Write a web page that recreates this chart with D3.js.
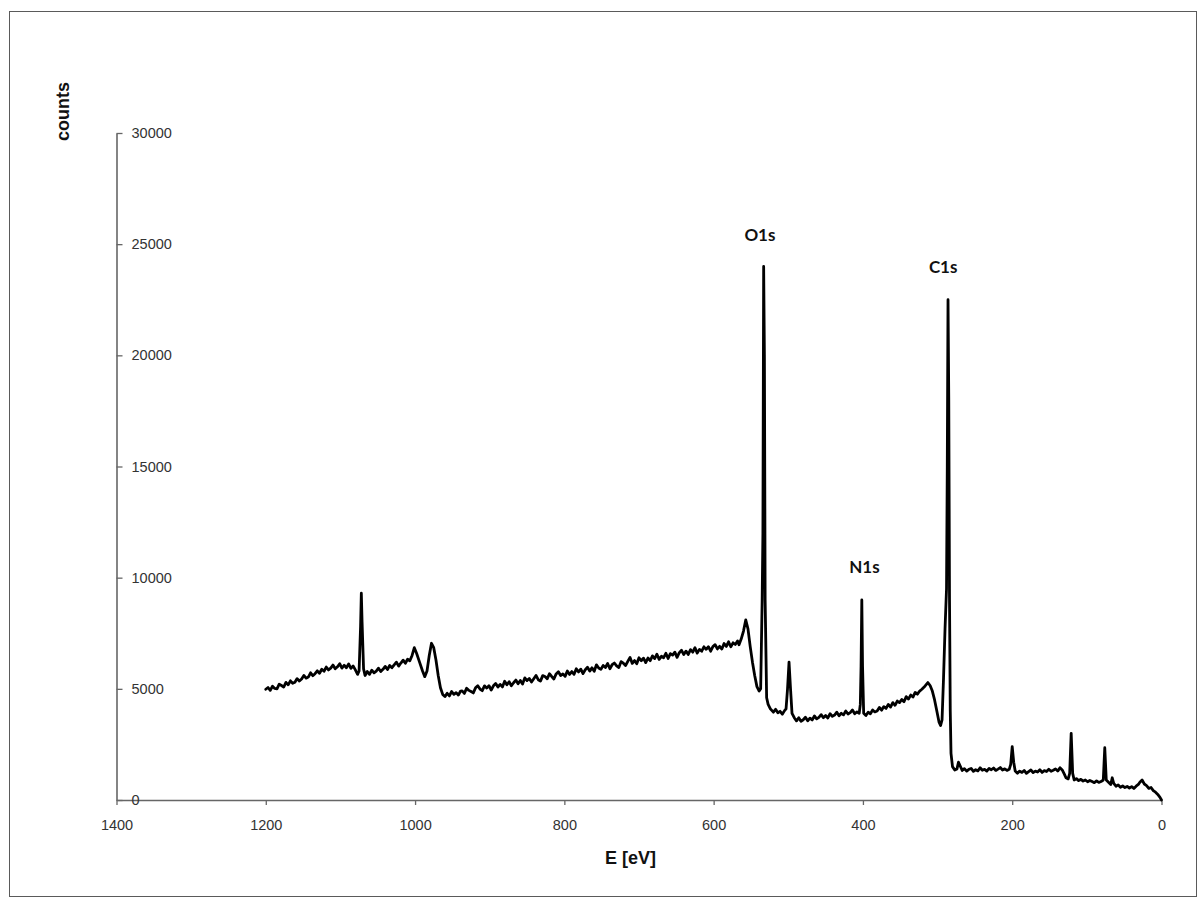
<!DOCTYPE html>
<html>
<head>
<meta charset="utf-8">
<script src="https://cdn.jsdelivr.net/npm/d3@7"></script>
<style>
  html, body { margin: 0; padding: 0; background: #fff; }
  svg { display: block; }
</style>
</head>
<body>
<svg id="chart" width="1203" height="903"></svg>
<script>
// XPS survey spectrum: binding energy (eV) vs. counts
const energy = [
  // high-energy background and the 1072 eV line
  1200, 1197, 1194, 1191, 1188, 1185, 1182, 1179, 1176, 1173, 1170, 1167, 1164, 1161, 1158, 1155, 1152, 1149, 1146, 1143, 1140,
  1137, 1134, 1131, 1128, 1125, 1122, 1119, 1116, 1113, 1110, 1107, 1104, 1101, 1098, 1095, 1092, 1089, 1086, 1083, 1080,
  1077, 1075, 1073, 1072, 1071, 1069, 1067, 1064, 1061, 1058, 1055, 1052, 1049, 1046,
  1043, 1040, 1037, 1034, 1031, 1028, 1025, 1022, 1019, 1016, 1013, 1010, 1007, 1004,
  // double feature near 1000 eV
  1001, 998, 994, 990, 987, 984, 981, 978, 975, 972, 969, 966, 963, 960, 957, 954, 951, 948, 945, 942, 939,
  // sloping background
  937, 934, 931, 928, 925, 922, 919, 916, 913, 910, 907, 904,
  901, 898, 895, 892, 889, 886, 883, 880, 877, 874, 871, 868,
  865, 862, 859, 856, 853, 850, 847, 844, 841, 838, 835, 832,
  829, 826, 823, 820, 817, 814, 811, 808, 805, 802, 799, 796,
  793, 790, 787, 784, 781, 778, 775, 772, 769, 766, 763, 760,
  757, 754, 751, 748, 745, 742, 739, 736, 733, 730, 727, 724,
  721, 718, 715, 712, 709, 706, 703, 700, 697, 694, 691, 688,
  685, 682, 679, 676, 673, 670, 667, 664, 661, 658, 655, 652,
  649, 646, 643, 640, 637, 634, 631, 628, 625, 622, 619, 616,
  613, 610, 607, 604, 601, 598, 595, 592, 589, 586, 583, 580,
  577, 574, 571,
  // O1s
  568, 566, 563, 560, 557, 554, 551, 548, 545, 542, 539, 537, 535, 534, 533, 532, 531, 529, 527, 524,
  // up to N1s
  520, 517, 514, 511, 508, 505, 503, 501, 499, 497, 495, 492, 489, 486, 483,
  480, 477, 474, 471, 468, 465, 462, 459, 456, 453, 450, 447, 444, 441, 438,
  435, 432, 429, 426, 423, 420, 417, 414, 411, 408, 405, 403.5, 402.5, 401.5, 400.5,
  // up to C1s
  399, 396, 393, 390, 387, 384, 381, 378, 375, 372, 369, 366, 363, 360, 357,
  354, 351, 348, 345, 342, 339, 336, 333, 330, 327, 324, 321, 318, 315, 313,
  310, 307, 304, 301, 298, 296, 294, 292, 290, 288, 287, 286, 285, 284, 283,
  // low-energy region
  282, 280, 277, 274, 272, 270, 267, 264, 261, 258,
  255, 252, 249, 246, 243, 240, 237, 234, 231, 228,
  225, 222, 219, 216, 213, 210, 207, 204, 202, 200,
  198, 196, 193, 190, 187, 184, 181, 178, 175, 172,
  169, 166, 163, 160, 157, 154, 151, 148, 145, 142,
  139, 136, 133, 130, 128, 125, 123, 121, 119, 117,
  114, 111, 108, 105, 102, 99, 96, 93, 90, 87,
  84, 81, 78, 76, 74, 71, 68, 66, 64, 61,
  58, 55, 52, 49, 46, 43, 40, 37, 34, 31,
  29, 26, 23, 20, 17, 14, 11, 8, 5, 2,
  0
];

const counts = [
  4980, 5060, 4930, 5120, 5020, 5000, 5210, 5150, 5080, 5290, 5180, 5360, 5250, 5300, 5460, 5350, 5440, 5600, 5480, 5530, 5720,
  5590, 5680, 5810, 5700, 5880, 5790, 5980, 5850, 5930, 6070, 5900, 5990, 6130, 5930, 6060, 5950, 6120, 5920, 6030, 5850,
  5650, 5800, 7800, 9300, 8000, 5900, 5600, 5780, 5650, 5840, 5720, 5800, 5930, 5780,
  5880, 6010, 5870, 6050, 5950, 6080, 6200, 6020, 6160, 6290, 6150, 6330, 6260, 6500,
  6850, 6600, 6200, 5800, 5550, 5800, 6500, 7050, 6850, 6300, 5600, 5050, 4750, 4650, 4800, 4680, 4880, 4750, 4830, 4720, 4900,
  4908, 4795, 5023, 4931, 4878, 4816, 5044, 5142, 4989, 4917, 5135, 5032,
  5140, 4948, 5136, 5243, 5081, 5199, 5086, 5344, 5182, 5319, 5137, 5275,
  5393, 5230, 5378, 5216, 5493, 5371, 5469, 5306, 5454, 5602, 5410, 5347,
  5595, 5553, 5450, 5678, 5556, 5443, 5671, 5769, 5597, 5674, 5562, 5800,
  5647, 5775, 5653, 5900, 5758, 5886, 5683, 5861, 5969, 5797, 5944, 5792,
  6080, 5937, 5875, 6053, 5960, 6138, 5906, 6084, 6161, 6029, 5957, 6224,
  6152, 6050, 6237, 6415, 6143, 6270, 6128, 6396, 6264, 6381, 6179, 6387,
  6264, 6482, 6360, 6557, 6325, 6463, 6400, 6598, 6366, 6584, 6521, 6649,
  6417, 6624, 6732, 6540, 6697, 6545, 6763, 6650, 6848, 6606, 6774, 6691,
  6889, 6777, 6894, 6692, 6900, 6987, 6795, 6913, 6790, 7038, 6906, 7114,
  6891, 7069, 6997,
  7150, 6980, 7250, 7600, 8100, 7700, 6900, 6200, 5600, 5100, 4900, 5000, 9000, 12000, 24000, 20000, 9000, 4600, 4300, 4100,
  3950, 4080, 3920, 3990, 3860, 4020, 4100, 5000, 6200, 5000, 3900, 3700, 3560, 3700, 3540,
  3610, 3720, 3560, 3680, 3600, 3780, 3650, 3720, 3840, 3700, 3800, 3690, 3880, 3760, 3820,
  3950, 3790, 3900, 3830, 4000, 3870, 3930, 4050, 3880, 3960, 3900, 4300, 6000, 9000, 6000,
  3900, 3800, 3950, 3880, 4050, 3960, 4000, 4160, 4040, 4200, 4120, 4300, 4180, 4380, 4260,
  4450, 4380, 4520, 4420, 4650, 4540, 4720, 4630, 4840, 4760, 4900, 4980, 5080, 5200, 5280,
  5150, 4900, 4500, 4000, 3500, 3350, 3600, 5500, 7700, 9500, 15000, 22500, 18000, 9000, 4000,
  2100, 1500, 1350, 1400, 1700, 1550, 1330, 1410, 1300, 1380,
  1420, 1290, 1360, 1310, 1450, 1340, 1380, 1300, 1420, 1360,
  1440, 1330, 1390, 1460, 1350, 1400, 1330, 1380, 1600, 2400,
  1700, 1300, 1200, 1300, 1240, 1330, 1200, 1280, 1350, 1230,
  1300, 1260, 1360, 1240, 1320, 1280, 1380, 1290, 1340, 1400,
  1300, 1450, 1350, 1150, 1000, 950, 1200, 3000, 1200, 900,
  960, 870, 930, 850, 900, 820, 880, 830, 780, 860,
  790, 830, 900, 2350, 900, 800, 700, 1000, 750, 620,
  680, 570, 630, 560, 610, 540, 600, 520, 620, 700,
  800, 900, 720, 650, 520, 560, 420, 350, 250, 120,
  0
];

// Peak annotations
const peakNames = ["O1s", "N1s", "C1s"];
const peakLabelEnergy = [538, 398, 292.5];
const peakLabelCounts = [25450, 10500, 24000];

// Axis ticks
const xTicks = [1400, 1200, 1000, 800, 600, 400, 200, 0];
const yTicks = [0, 5000, 10000, 15000, 20000, 25000, 30000];

const svg = d3.select("#chart");

// Outer frame
svg.append("rect")
  .attr("x", 9.5).attr("y", 11.5)
  .attr("width", 1187).attr("height", 885)
  .attr("fill", "#fff")
  .attr("stroke", "#5a5a5a")
  .attr("stroke-width", 1);

const x = d3.scaleLinear().domain([1400, 0]).range([116.5, 1161.5]);
const y = d3.scaleLinear().domain([0, 30000]).range([800, 133]);

const axisColor = "#666";
const textColor = "#333";
const tickFont = "'Liberation Sans', Arial, sans-serif";

// X axis (ticks point down, below the baseline)
const gx = svg.append("g")
  .attr("transform", `translate(0,${y(0)})`)
  .call(d3.axisBottom(x).tickValues(xTicks).tickFormat(d3.format("d"))
    .tickSizeInner(5).tickSizeOuter(0).tickPadding(15));

// Y axis (ticks point into the plot, labels to the right of the axis)
const gy = svg.append("g")
  .attr("transform", `translate(${x(1400)},0)`)
  .call(d3.axisRight(y).tickValues(yTicks).tickFormat(d3.format("d"))
    .tickSizeInner(6).tickSizeOuter(0).tickPadding(9));

[gx, gy].forEach(g => {
  g.select(".domain").attr("stroke", axisColor).attr("stroke-width", 1.6);
  g.selectAll(".tick line").attr("stroke", axisColor).attr("stroke-width", 1.3);
  g.selectAll(".tick text")
    .attr("fill", textColor)
    .style("font-family", tickFont)
    .style("font-size", "14.5px");
});

// Spectrum line
const pts = energy.map((e, i) => [e, counts[i]]);
const line = d3.line().x(d => x(d[0])).y(d => y(d[1]));
svg.append("path")
  .datum(pts)
  .attr("d", line)
  .attr("fill", "none")
  .attr("stroke", "#000")
  .attr("stroke-width", 2.8)
  .attr("stroke-linejoin", "round")
  .attr("stroke-linecap", "round");

// Peak labels
svg.selectAll("text.peak")
  .data(peakNames)
  .enter().append("text")
  .attr("class", "peak")
  .attr("x", (d, i) => x(peakLabelEnergy[i]))
  .attr("y", (d, i) => y(peakLabelCounts[i]))
  .attr("text-anchor", "middle")
  .attr("dominant-baseline", "central")
  .attr("fill", "#111")
  .style("font-family", "Lato, 'Noto Sans', sans-serif")
  .style("font-weight", "bold")
  .style("font-size", "17px")
  .text(d => d);

// Axis titles
svg.append("text")
  .attr("x", 630.5).attr("y", 858)
  .attr("text-anchor", "middle")
  .attr("dominant-baseline", "central")
  .attr("fill", "#111")
  .style("font-family", tickFont)
  .style("font-weight", "bold")
  .style("font-size", "18px")
  .text("E [eV]");

svg.append("text")
  .attr("transform", "translate(63,111.5) rotate(-90)")
  .attr("text-anchor", "middle")
  .attr("dominant-baseline", "central")
  .attr("fill", "#111")
  .style("font-family", tickFont)
  .style("font-weight", "bold")
  .style("font-size", "18px")
  .text("counts");
</script>
</body>
</html>
